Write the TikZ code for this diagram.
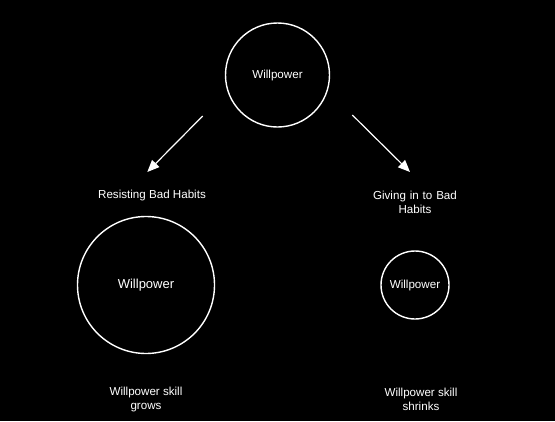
\documentclass[tikz,border=0pt]{standalone}
\usepackage{fontspec}
\setmainfont{Liberation Sans}
\usetikzlibrary{arrows.meta}
\begin{document}
\begin{tikzpicture}[x=1pt,y=-1pt,
  ring/.style={draw=white, line width=1.4pt, circle, inner sep=0pt, text=white, font=\fontsize{11.6}{14}\selectfont},
  lbl/.style={text=white, align=center, font=\fontsize{11.6}{14}\selectfont, inner sep=0pt},
  arr/.style={draw=white, line width=1.2pt, -{Triangle[length=12pt,width=10pt]}}]
\fill[black] (0,0) rectangle (555,421);
\useasboundingbox (0,0) rectangle (555,421);
\node[ring, minimum size=104pt] (top) at (277.5,75) {Willpower};
\node[ring, minimum size=137pt, font=\fontsize{13}{15}\selectfont] (big) at (146,285) {Willpower};
\node[ring, minimum size=68pt] (small) at (415,285) {Willpower};
\node[lbl] (resist) at (152,195) {Resisting Bad Habits};
\node[lbl, text width=100pt] (give) at (415,202) {Giving in to Bad\\Habits};
\node[lbl] (grows) at (146,399) {Willpower skill\\grows};
\node[lbl] (shrinks) at (421,399) {Willpower skill\\shrinks};
\coordinate (a1s) at (202.7,116);
\coordinate (a1e) at (147.3,172);
\coordinate (a2s) at (352.3,115);
\coordinate (a2e) at (410,172);
\draw[arr] (a1s) -- (a1e);
\draw[arr] (a2s) -- (a2e);
\end{tikzpicture}
\end{document}
